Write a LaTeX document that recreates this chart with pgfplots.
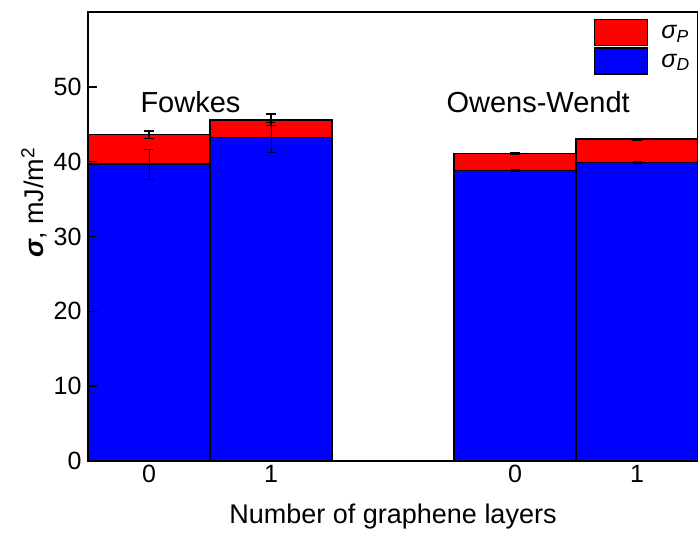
\documentclass[border=0pt]{standalone}
\usepackage{fontspec}
\setmainfont{Liberation Sans}
\usepackage{pgfplots}
\pgfplotsset{compat=1.18}
\begin{document}
\begin{tikzpicture}
\pgfplotsset{mylegend/.style={legend image code/.code={\draw[##1,line width=1.5pt] (0pt,-13pt) rectangle (53pt,13pt); \path (64pt,0pt);}}}
\begin{axis}[
  name=ax,
  scale only axis, width=610pt, height=449pt,
  xmin=-0.5, xmax=4.5, ymin=0, ymax=60,
  axis on top,
  axis line style={line width=1.6pt},
  ytick={0,10,20,30,40,50},
  ytick pos=left,
  xtick={0,1,3,4}, xticklabels={0,1,0,1},
  ytick align=inside, major tick length=9pt,
  y tick style={line width=1.6pt, black},
  x tick style={draw=none},
  tick label style={font=\fontsize{25}{28}\selectfont},
  yticklabel style={xshift=-3pt},
  xticklabel style={yshift=-1pt},
  /pgf/number format/assume math mode=true,
  xlabel={Number of graphene layers},
  ylabel={{\bfseries\itshape σ}, mJ/m\textsuperscript{2}},
  label style={font=\fontsize{27}{30}\selectfont},
  ylabel style={at={(ticklabel cs:0.58)}, xshift=-2pt},
  xlabel style={yshift=-14pt},
  legend style={draw=none, fill=none, at={(rel axis cs:0.99,0.985)}, anchor=north east,
    font=\fontsize{25}{26}\selectfont, row sep=1pt, inner sep=0pt},
  legend cell align=left,
]
\addplot[ybar, bar width=1, bar shift=0pt, fill=red, draw=black, line width=1.5pt, mylegend,
  error bars/.cd, y dir=both, y explicit,
  error bar style={line width=1.5pt, black},
  error mark options={rotate=90, mark size=5pt, line width=1.5pt, black}]
  coordinates {(0,43.6)+-(0,0.5) (1,45.6)+-(0,0.8) (3,41.1)+-(0,0.15) (4,43.0)+-(0,0.1)};
\addplot[ybar, bar width=1, bar shift=0pt, fill=blue, draw=black, line width=1.5pt, mylegend,
  error bars/.cd, y dir=both, y explicit,
  error bar style={line width=0.6pt, black},
  error mark options={rotate=90, mark size=4.5pt, line width=0.6pt, black}]
  coordinates {(0,39.7)+-(0,2) (1,43.2)+-(0,2) (3,38.8)+-(0,0.15) (4,39.9)+-(0,0.1)};
\legend{{\itshape σ}\textsubscript{\itshape P}, {\itshape σ}\textsubscript{\itshape D}}
\node[font=\fontsize{29}{32}\selectfont] at (axis cs:0.34,48) {Fowkes};
\node[font=\fontsize{29}{32}\selectfont] at (axis cs:3.19,48) {Owens-Wendt};
\end{axis}
\pgfresetboundingbox
\path[use as bounding box] ([xshift=-88pt,yshift=-74pt]ax.south west) rectangle ([yshift=12pt]ax.north east);
\end{tikzpicture}
\end{document}
